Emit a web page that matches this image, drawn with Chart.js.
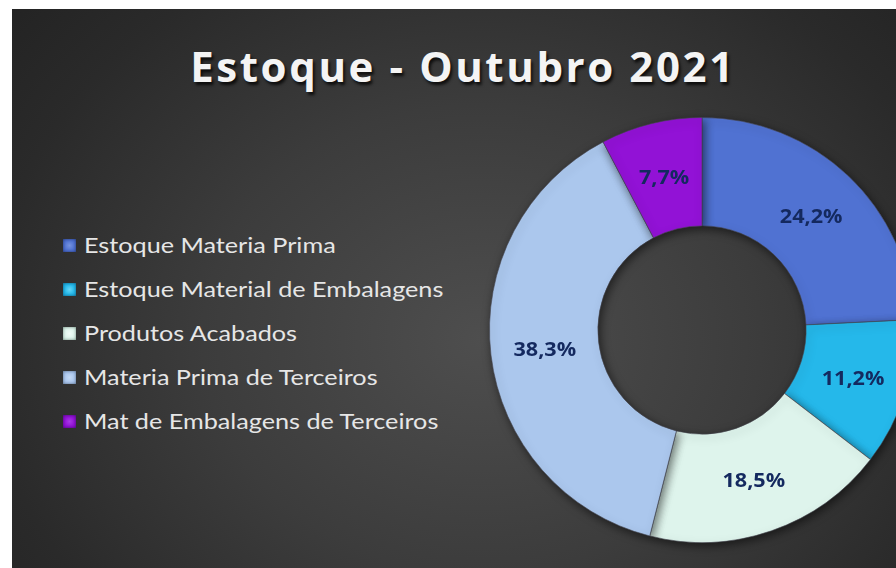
<!DOCTYPE html>
<html>
<head>
<meta charset="utf-8">
<script src="https://cdn.jsdelivr.net/npm/chart.js@4.4.0/dist/chart.umd.min.js"></script>
<style>
  html, body { margin:0; padding:0; width:896px; height:568px; overflow:hidden; background:#ffffff; }
  #panel { position:absolute; left:12px; top:9px; width:900px; height:570px;
    background: radial-gradient(ellipse 620px 520px at 470px 330px, #4e4e4e 0%, #3c3c3c 45%, #2a2a2a 80%, #232323 100%); }
  #wrap { position:absolute; left:0; top:0; width:930px; height:568px; }
  #title { position:absolute; left:0; width:926px; top:37px; text-align:center; color:#f4f4f4;
    font-family:'Open Sans', sans-serif; font-weight:700; font-size:42px; letter-spacing:2.6px;
    text-shadow: 2px 3px 3px rgba(0,0,0,0.75); white-space:nowrap; }
  #legend { position:absolute; left:63px; top:223px; font-family:Lato, sans-serif; font-size:21px; color:#e6e6e6; }
  .item { height:44px; line-height:30px; display:flex; align-items:center; white-space:nowrap; }
  .item .sw { width:13px; height:13px; margin-right:8px; box-shadow: inset 0 0 3px rgba(0,0,0,0.45); }
  .item .tx { display:inline-block; transform: scaleX(1.2); transform-origin: left center; }
</style>
</head>
<body>
<div id="panel"></div>
<div id="title"></div>
<div id="legend"></div>
<div id="wrap"><canvas id="c" width="930" height="568" style="width:930px;height:568px"></canvas></div>
<script>
const titleText = "Estoque - Outubro 2021";
const categories = ["Estoque Materia Prima", "Estoque Material de Embalagens", "Produtos Acabados", "Materia Prima de Terceiros", "Mat de Embalagens de Terceiros"];
const values = [24.2, 11.2, 18.5, 38.3, 7.7];
const valueLabels = ["24,2%", "11,2%", "18,5%", "38,3%", "7,7%"];
const colors = ["#5072d2", "#25b8ea", "#def4ec", "#abc7ed", "#9212d6"];
const lightColors = ["#7693df", "#66d6f6", "#f2fcf8", "#c4d9f3", "#a93ae6"];
const darkColors = ["#3f5fc0", "#1a9fd4", "#c6e8d8", "#95b4df", "#7a0cbc"];

document.getElementById('title').textContent = titleText;
const leg = document.getElementById('legend');
categories.forEach((c, i) => {
  const d = document.createElement('div'); d.className = 'item';
  const s = document.createElement('span'); s.className = 'sw';
  s.style.background = `radial-gradient(circle at 50% 50%, ${lightColors[i]} 0%, ${colors[i]} 55%, ${darkColors[i]} 100%)`;
  const t = document.createElement('span'); t.className = 'tx'; t.textContent = c;
  d.appendChild(s); d.appendChild(t); leg.appendChild(d);
});

const labelPlugin = {
  id: 'labels',
  beforeDatasetsDraw(chart) {
    const ctx = chart.ctx; ctx.save();
    ctx.shadowColor = 'rgba(0,0,0,0.55)'; ctx.shadowBlur = 10; ctx.shadowOffsetX = 2; ctx.shadowOffsetY = 3;
  },
  afterDatasetsDraw(chart) {
    const ctx = chart.ctx; ctx.restore();
    ctx.save();
    ctx.font = "bold 20px 'Open Sans', sans-serif";
    ctx.fillStyle = '#14295f';
    ctx.textAlign = 'center'; ctx.textBaseline = 'middle';
    chart.getDatasetMeta(0).data.forEach((arc, i) => {
      const p = arc.tooltipPosition();
      ctx.save();
      ctx.translate(p.x, p.y + 2);
      ctx.scale(1.08, 1);
      ctx.fillText(valueLabels[i], 0, 0);
      ctx.restore();
    });
    ctx.restore();
  }
};

function sliceFill(context) {
  const i = context.dataIndex;
  const chart = context.chart;
  const arc = context.element;
  if (!chart.chartArea || !arc) return colors[i];
  const { x, y, innerRadius, outerRadius } = arc.getProps(['x','y','innerRadius','outerRadius'], true);
  if (!outerRadius) return colors[i];
  const g = chart.ctx.createRadialGradient(x, y, innerRadius, x, y, outerRadius);
  g.addColorStop(0, darkColors[i]);
  g.addColorStop(0.12, colors[i]);
  g.addColorStop(0.5, lightColors[i]);
  g.addColorStop(0.85, colors[i]);
  g.addColorStop(1, darkColors[i]);
  return g;
}

new Chart(document.getElementById('c'), {
  type: 'doughnut',
  data: {
    labels: categories,
    datasets: [{ data: values, backgroundColor: sliceFill, borderColor: 'rgba(70,70,80,0.6)', borderWidth: 1, hoverOffset: 0 }]
  },
  options: {
    responsive: false,
    animation: false,
    cutout: '49%',
    layout: { padding: { left: 489, top: 117, right: 15, bottom: 25 } },
    plugins: { legend: { display: false }, title: { display: false }, tooltip: { enabled: false } }
  },
  plugins: [labelPlugin]
});
</script>
</body>
</html>
